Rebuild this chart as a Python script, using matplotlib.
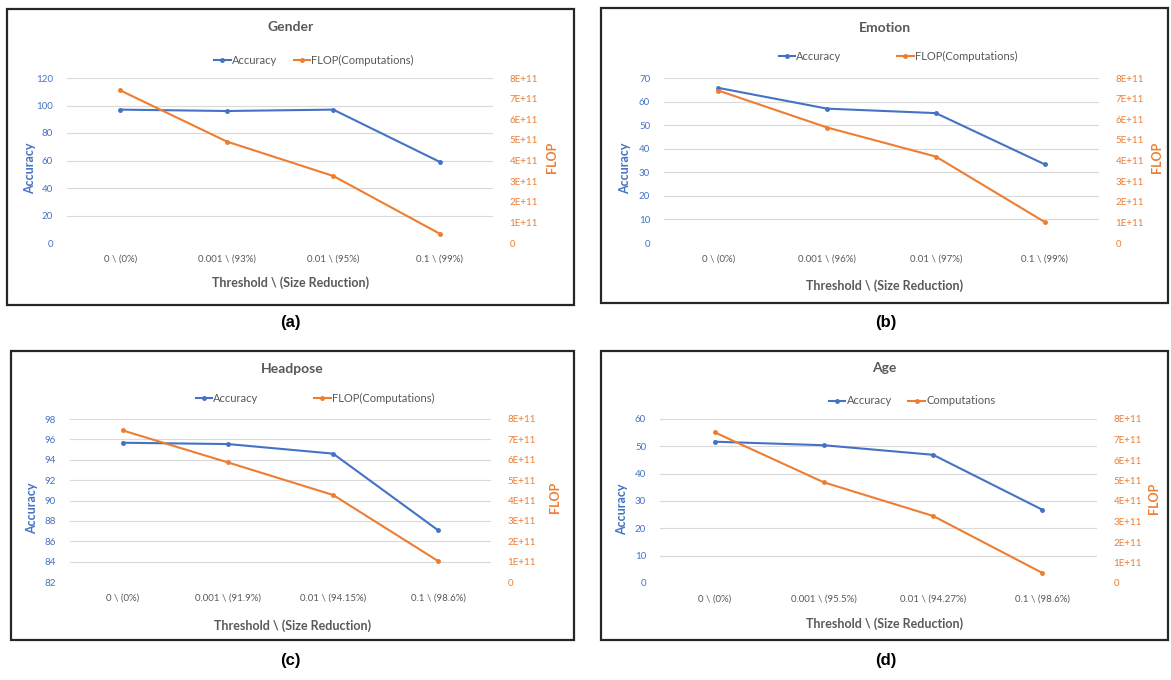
import numpy as np
import matplotlib.pyplot as plt
from matplotlib.patches import Rectangle
from matplotlib.lines import Line2D

plt.rcParams['font.family'] = ['Lato', 'DejaVu Sans']

W, H = 1171, 680

titles = ['Gender', 'Emotion', 'Headpose', 'Age']
panel_tags = ['(a)', '(b)', '(c)', '(d)']

cats_gender = ['0 \\ (0%)', '0.001 \\ (93%)', '0.01 \\ (95%)', '0.1 \\ (99%)']
cats_emotion = ['0 \\ (0%)', '0.001 \\ (96%)', '0.01 \\ (97%)', '0.1 \\ (99%)']
cats_headpose = ['0 \\ (0%)', '0.001 \\ (91.9%)', '0.01 \\ (94.15%)', '0.1 \\ (98.6%)']
cats_age = ['0 \\ (0%)', '0.001 \\ (95.5%)', '0.01 \\ (94.27%)', '0.1 \\ (98.6%)']

acc_gender = [97, 96, 97, 59]
acc_emotion = [65.8, 57, 55.1, 33.4]
acc_headpose = [95.67, 95.54, 94.6, 87.06]
acc_age = [51.7, 50.4, 46.9, 26.8]

flop_gender = [7.4e11, 4.92e11, 3.25e11, 0.45e11]
flop_emotion = [7.39e11, 5.6e11, 4.19e11, 1.02e11]
flop_headpose = [7.44e11, 5.87e11, 4.27e11, 1.02e11]
flop_age = [7.35e11, 4.91e11, 3.27e11, 0.49e11]

acc_ticks = [np.arange(0, 121, 20), np.arange(0, 71, 10), np.arange(82, 99, 2), np.arange(0, 61, 10)]
flop_ticks = np.arange(0, 8.01e11, 1e11)
flop_labels = ['0'] + [f'{i}E+11' for i in range(1, 9)]

legend_names = [('Accuracy', 'FLOP(Computations)'), ('Accuracy', 'FLOP(Computations)'),
                ('Accuracy', 'FLOP(Computations)'), ('Accuracy', 'Computations')]

cats = [cats_gender, cats_emotion, cats_headpose, cats_age]
accs = [acc_gender, acc_emotion, acc_headpose, acc_age]
flops = [flop_gender, flop_emotion, flop_headpose, flop_age]

blue = '#4472C4'
orange = '#ED7D31'
grey = '#595959'

# pixel layout: plot area (left, right, top, bottom), box (x0, x1, y0, y1), title y, legend (cx, y, colspace), xlabel y, tag (x, y)
plot_px = [(67, 493, 78, 243), (664, 1099, 78, 243), (70, 491, 419, 582), (660, 1097, 419, 583)]
box_px = [(7, 574, 9, 305), (601, 1168, 8, 303), (11, 574, 351, 640), (601, 1168, 351, 640)]
title_y = [27, 28, 369, 368]
legend_px = [(314, 60, 1.5), (898, 56, 5.0), (315, 398, 5.0), (912, 401, 1.5)]
xlabel_y = [283, 286, 626, 624]
acc_lbl_x = [30, 625, 32, 622]
flop_lbl_x = [552, 1157, 555, 1154]
tag_px = [(290, 323), (886, 323), (290, 660), (886, 660)]

fig = plt.figure(figsize=(W / 100, H / 100), dpi=100)

def fx(x):
    return x / W

def fy(y):
    return 1 - y / H

for i in range(4):
    l, r, t, b = plot_px[i]
    ax = fig.add_axes([fx(l), fy(b), fx(r) - fx(l), fy(t) - fy(b)])
    ax2 = ax.twinx()
    x = np.arange(len(cats[i]))

    ax.plot(x, accs[i], color=blue, lw=1.5, marker='o', ms=2.5, zorder=3)
    ax2.plot(x, flops[i], color=orange, lw=1.5, marker='o', ms=2.5, zorder=3)

    ax.set_xlim(-0.5, 3.5)
    ax.set_ylim(acc_ticks[i][0], acc_ticks[i][-1])
    ax.set_yticks(acc_ticks[i])
    ax2.set_ylim(0, 8e11)
    ax2.set_yticks(flop_ticks)
    ax2.set_yticklabels(flop_labels)
    ax.set_xticks(x)
    ax.set_xticklabels(cats[i])

    ax.grid(axis='y', color='#D9D9D9', lw=0.8)
    ax.set_axisbelow(True)
    for a in (ax, ax2):
        for s in a.spines.values():
            s.set_visible(False)
    ax.tick_params(axis='y', length=0, labelsize=7, labelcolor=blue, pad=10)
    ax.tick_params(axis='x', length=0, labelsize=7, labelcolor=grey, pad=8)
    ax2.tick_params(axis='y', length=0, labelsize=7, labelcolor=orange, pad=12)

    mid = (t + b) / 2
    fig.text(fx(acc_lbl_x[i]), fy(mid + 8), 'Accuracy', rotation=90, color=blue,
             fontsize=9, fontweight='bold', ha='center', va='center')
    fig.text(fx(flop_lbl_x[i]), fy(mid - 3), 'FLOP', rotation=90, color=orange,
             fontsize=9, fontweight='bold', ha='center', va='center')

    bx0, bx1, by0, by1 = box_px[i]
    fig.patches.append(Rectangle((fx(bx0), fy(by1)), fx(bx1) - fx(bx0), fy(by0) - fy(by1),
                                 transform=fig.transFigure, fill=False, ec='#262626', lw=1.6))

    fig.text(fx((bx0 + bx1) / 2), fy(title_y[i]),
             titles[i], ha='center', va='center', fontsize=10, color=grey, fontweight='bold')
    fig.text(fx((bx0 + bx1) / 2), fy(xlabel_y[i]), 'Threshold \\ (Size Reduction)',
             ha='center', va='center', fontsize=9, color=grey, fontweight='bold')

    cx, ly, cs = legend_px[i]
    handles = [Line2D([], [], color=blue, lw=1.5, marker='o', ms=2.5),
               Line2D([], [], color=orange, lw=1.5, marker='o', ms=2.5)]
    leg = fig.legend(handles, legend_names[i], loc='center', bbox_to_anchor=(fx(cx), fy(ly)),
                     ncol=2, frameon=False, fontsize=8, handlelength=1.5, handletextpad=0.1,
                     columnspacing=cs)
    for txt in leg.get_texts():
        txt.set_color(grey)

    tx, ty = tag_px[i]
    fig.text(fx(tx), fy(ty), panel_tags[i], ha='center', va='center', fontsize=12,
             fontweight='bold', family='Liberation Sans')

fig.savefig('out.png', dpi=100, facecolor='white')
